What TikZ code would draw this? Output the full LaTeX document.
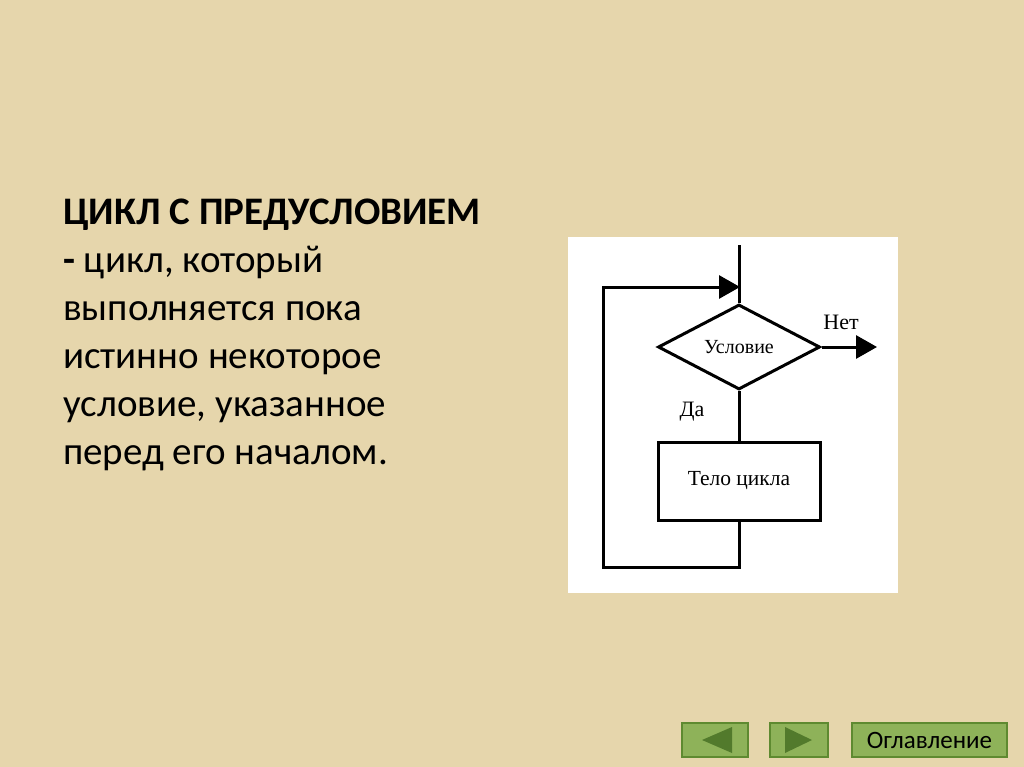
\documentclass[tikz,border=0pt]{standalone}
\usepackage{fontspec}
\setmainfont{Carlito}
\newfontfamily\schemefont{Liberation Serif}
\usetikzlibrary{arrows.meta,shapes.geometric}

\definecolor{parchment}{HTML}{E6D6AC}
\definecolor{btnfill}{HTML}{8EB259}
\definecolor{btnedge}{HTML}{5E8A30}
\definecolor{btnmark}{HTML}{527A2C}

\begin{document}
\begin{tikzpicture}[x=1pt,y=-1pt,
    flow/.style={line width=3pt},
    flowarrow/.style={flow,-{Triangle[length=21pt,width=23pt]}},
    cond/.style={shape=diamond,draw=black,line width=3pt,minimum width=162pt,minimum height=85pt,inner sep=0pt,font=\schemefont\fontsize{20}{22}\selectfont},
    block/.style={shape=rectangle,draw=black,line width=3pt,minimum width=162pt,minimum height=78pt,font=\schemefont\fontsize{21.5}{24}\selectfont},
    lbl/.style={font=\schemefont\fontsize{22}{24}\selectfont,inner sep=0pt},
    navbtn/.style={shape=rectangle,draw=btnedge,line width=1.5pt,fill=btnfill,minimum height=34pt,inner sep=0pt}]
    % background and white panel
    \fill[parchment] (0,0) rectangle (1024,767);
    \useasboundingbox (0,0) rectangle (1024,767);
    \fill[white] (568,237) rectangle (898,593);

    % slide text
    \node[anchor=north west,inner sep=0pt,align=left,font=\fontsize{39}{48}\selectfont] (txt) at (63,199)
      {\textbf{ЦИКЛ С ПРЕДУСЛОВИЕМ}\\ \textbf{-} цикл, который\\ выполняется пока\\ истинно некоторое\\ условие, указанное\\ перед его началом.};

    % flowchart
    \node[cond] (c) at (739,347) {Условие};
    \node[block] (b) at (739,481) {Тело цикла};
    \node[lbl] (yes) at (692,412) {Да};
    \node[lbl] (no) at (841,322) {Нет};
    \coordinate (in) at (739,245);
    \coordinate (out) at (877,347);
    \coordinate (lb) at (603,567);
    \coordinate (lt) at (603,287);
    \coordinate (j) at (740,287);
    \draw[flow] (in) -- (c.north);
    \draw[flow] (c.south) -- (b.north);
    \draw[flowarrow] (c.east) -- (out);
    \draw[flowarrow,line join=miter] (b.south) |- (lb) -- (lt) -- (j);

    % navigation buttons
    \node[navbtn,minimum width=66pt] (back) at (715,740) {};
    \node[navbtn,minimum width=58pt] (fwd) at (799,740) {};
    \node[navbtn,minimum width=155pt,font=\fontsize{25}{28}\selectfont] (toc) at (929.5,740) {Оглавление};
    \fill[btnmark] ([xshift=-13pt]back.center) -- ([xshift=17pt,yshift=-13pt]back.center) -- ([xshift=17pt,yshift=13pt]back.center) -- cycle;
    \fill[btnmark] ([xshift=13pt]fwd.center) -- ([xshift=-14pt,yshift=-13pt]fwd.center) -- ([xshift=-14pt,yshift=13pt]fwd.center) -- cycle;
\end{tikzpicture}
\end{document}
